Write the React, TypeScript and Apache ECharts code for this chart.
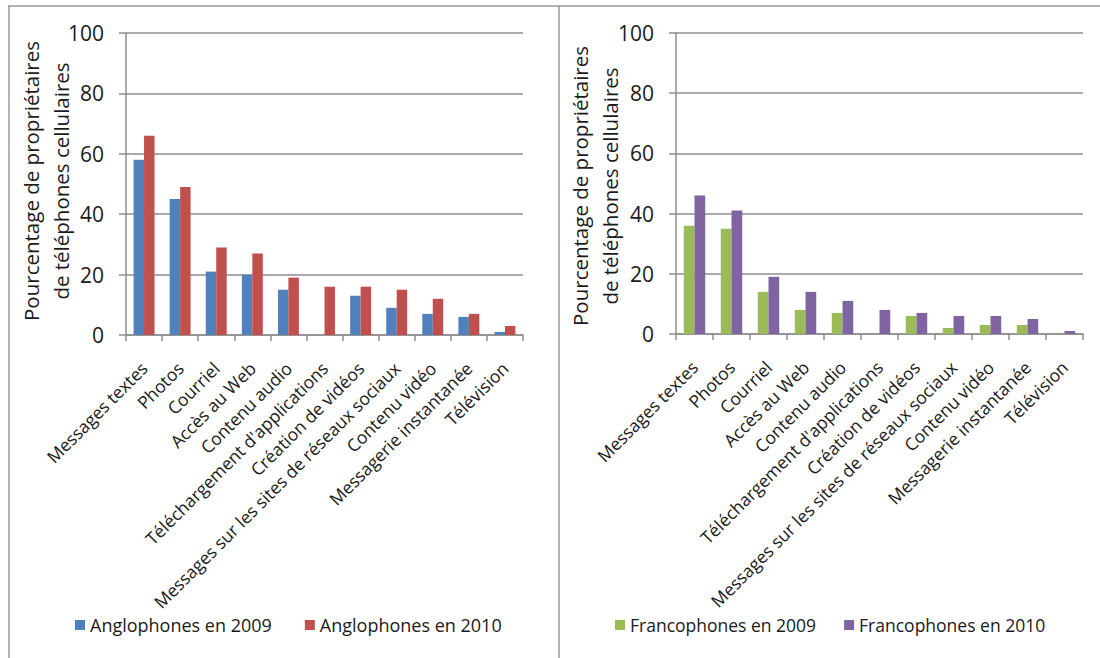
import React, { useEffect, useRef } from "react";
import * as echarts from "echarts";

// Usages du téléphone cellulaire, 2009 vs 2010
const categories = [
  "Messages textes",
  "Photos",
  "Courriel",
  "Accès au Web",
  "Contenu audio",
  "Téléchargement d'applications",
  "Création de vidéos",
  "Messages sur les sites de réseaux sociaux",
  "Contenu vidéo",
  "Messagerie instantanée",
  "Télévision",
];

const anglo2009 = [58, 45, 21, 20, 15, null, 13, 9, 7, 6, 1];
const anglo2010 = [66, 49, 29, 27, 19, 16, 16, 15, 12, 7, 3];
const franco2009 = [36, 35, 14, 8, 7, null, 6, 2, 3, 3, null];
const franco2010 = [46, 41, 19, 14, 11, 8, 7, 6, 6, 5, 1];

const seriesNames = [
  "Anglophones en 2009",
  "Anglophones en 2010",
  "Francophones en 2009",
  "Francophones en 2010",
];
const seriesColors = ["#4F81BD", "#C0504D", "#9BBB59", "#8064A2"];

const yTitleLines = ["Pourcentage de propriétaires", "de téléphones cellulaires"];

const FONT = "'Open Sans', sans-serif";
const GRID_COLOR = "#8e8e8e";
const TEXT_COLOR = "#1a1a1a";

function makeXAxis(gridIndex: number) {
  return {
    type: "category",
    gridIndex,
    data: categories,
    axisLine: { show: true, lineStyle: { color: GRID_COLOR, width: 1.5 } },
    axisTick: { show: true, length: 6, lineStyle: { color: GRID_COLOR, width: 1.5 } },
    axisLabel: {
      rotate: 45,
      interval: 0,
      margin: 30,
      fontFamily: FONT,
      fontSize: 17.5,
      color: TEXT_COLOR,
    },
  };
}

function makeYAxis(gridIndex: number) {
  return {
    type: "value",
    gridIndex,
    min: 0,
    max: 100,
    interval: 20,
    axisLine: { show: true, lineStyle: { color: GRID_COLOR, width: 1.5 } },
    axisTick: { show: true, length: 7, lineStyle: { color: GRID_COLOR, width: 1.5 } },
    splitLine: { show: true, lineStyle: { color: GRID_COLOR, width: 1.5 } },
    axisLabel: {
      margin: 22,
      fontFamily: FONT,
      fontSize: 21,
      color: TEXT_COLOR,
    },
  };
}

function makeBar(idx: number, data: (number | null)[], axisIndex: number) {
  return {
    type: "bar",
    name: seriesNames[idx],
    data,
    xAxisIndex: axisIndex,
    yAxisIndex: axisIndex,
    barGap: "0%",
    barCategoryGap: "42%",
    itemStyle: { color: seriesColors[idx] },
  };
}

function yTitle(cx: number, cy: number) {
  return yTitleLines.map((line, i) => ({
    type: "text",
    x: cx + i * 30,
    y: cy,
    rotation: Math.PI / 2,
    style: {
      text: line,
      fontFamily: FONT,
      fontSize: 20.5,
      fill: TEXT_COLOR,
      textAlign: "center",
      textVerticalAlign: "middle",
    },
  }));
}

const frameStyle = { stroke: "#9a9a9a", lineWidth: 1.5 };

export default function App() {
  const ref = useRef<HTMLDivElement>(null);

  useEffect(() => {
    if (!ref.current) return;
    const chart = echarts.init(ref.current, undefined, { renderer: "svg" });
    chart.setOption({
      animation: false,
      backgroundColor: "#ffffff",
      grid: [
        { left: 126, top: 33, width: 397, height: 302 },
        { left: 676, top: 33, width: 407, height: 301 },
      ],
      xAxis: [makeXAxis(0), makeXAxis(1)],
      yAxis: [makeYAxis(0), makeYAxis(1)],
      legend: [
        {
          data: [seriesNames[0], seriesNames[1]],
          left: 70,
          top: 611,
          itemWidth: 10,
          itemHeight: 10,
          itemGap: 33,
          icon: "rect",
          textStyle: { fontFamily: FONT, fontSize: 18, color: TEXT_COLOR },
        },
        {
          data: [seriesNames[2], seriesNames[3]],
          left: 610,
          top: 611,
          itemWidth: 10,
          itemHeight: 10,
          itemGap: 28,
          icon: "rect",
          textStyle: { fontFamily: FONT, fontSize: 17.5, color: TEXT_COLOR },
        },
      ],
      series: [
        makeBar(0, anglo2009, 0),
        makeBar(1, anglo2010, 0),
        makeBar(2, franco2009, 1),
        makeBar(3, franco2010, 1),
      ],
      graphic: [
        { type: "line", shape: { x1: 8, y1: 6, x2: 1100, y2: 6 }, style: frameStyle },
        { type: "line", shape: { x1: 9, y1: 6, x2: 9, y2: 658 }, style: frameStyle },
        { type: "line", shape: { x1: 559, y1: 6, x2: 559, y2: 658 }, style: frameStyle },
        ...yTitle(31, 181),
        ...yTitle(580, 186),
      ],
    });
    return () => chart.dispose();
  }, []);

  return (
    <div
      ref={ref}
      style={{ position: "fixed", left: 0, top: 0, width: 1100, height: 658 }}
    />
  );
}
